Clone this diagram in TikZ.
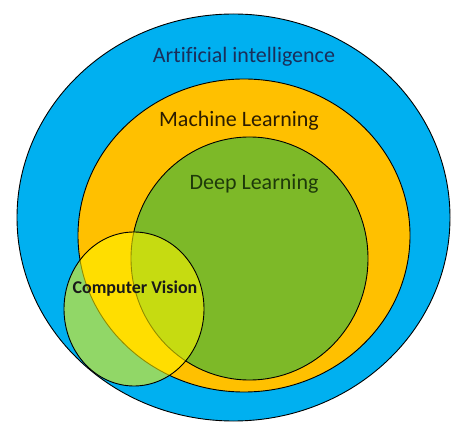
\documentclass[tikz,border=0pt]{standalone}
\usepackage{fontspec}
\setmainfont[Ligatures=CommonOff]{Carlito}
\usepackage{xcolor}
\usetikzlibrary{shapes.geometric}

\definecolor{aiblue}{RGB}{0,176,240}
\definecolor{mlorange}{RGB}{255,192,0}
\definecolor{dlgreen}{RGB}{125,185,40}
\definecolor{cvyellow}{RGB}{255,246,0}
\definecolor{aitext}{RGB}{26,46,90}
\definecolor{mltext}{RGB}{43,28,0}
\definecolor{dltext}{RGB}{30,58,10}

\begin{document}
\begin{tikzpicture}[
  x=1pt, y=-1pt,
  set/.style={ellipse, draw=black, line width=0.9pt, inner sep=0pt},
  lbl/.style={inner sep=0pt, font=\fontsize{22}{26}\selectfont}
]
\useasboundingbox (0,0) rectangle (474,438);
% the nested sets
\node[set, fill=aiblue, minimum width=433pt, minimum height=407pt] (ai) at (233.5,217.5) {};
\node[set, fill=mlorange, minimum width=332pt, minimum height=313pt] (ml) at (244,235.5) {};
\node[set, fill=dlgreen, minimum width=237pt, minimum height=243pt] (dl) at (249.5,258.5) {};
\node[set, fill=cvyellow, fill opacity=0.57, minimum width=140pt, minimum height=154pt] (cv) at (134,309) {};
% labels
\node[lbl, text=aitext] (ailbl) at (244,57) {Artificial intelligence};
\node[lbl, text=mltext] (mllbl) at (239,121) {Machine Learning};
\node[lbl, text=dltext] (dllbl) at (254,184) {Deep Learning};
\node[lbl, text=black!90, font=\fontsize{18}{22}\selectfont\bfseries] (cvlbl) at (135,289) {Computer Vision};
\end{tikzpicture}
\end{document}
